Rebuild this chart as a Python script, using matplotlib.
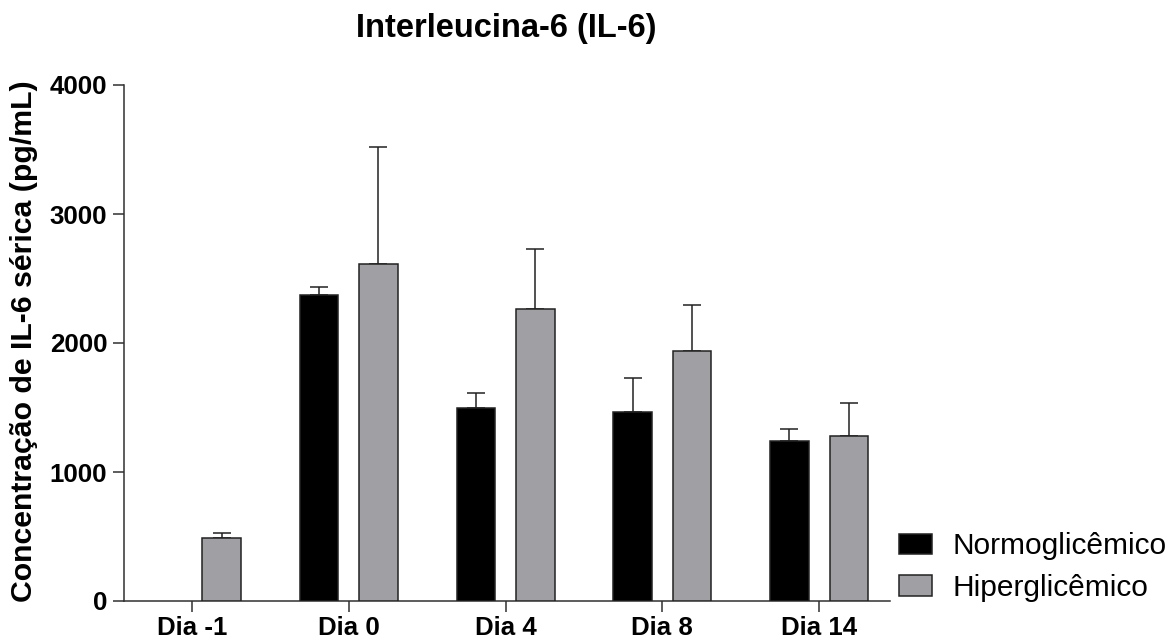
import numpy as np
import matplotlib
matplotlib.use("Agg")
import matplotlib.pyplot as plt

plt.rcParams['font.family'] = ['Liberation Sans', 'DejaVu Sans']

dias = ["Dia -1", "Dia 0", "Dia 4", "Dia 8", "Dia 14"]
normo = [np.nan, 2374, 1500, 1462, 1237]
normo_err = [0, 60, 109, 268, 93]
hiper = [492, 2610, 2261, 1937, 1278]
hiper_err = [39, 912, 470, 355, 258]

x = np.arange(len(dias))
w = 0.245
off = 0.19
edge = "#222222"
axcol = "#303030"

fig = plt.figure(figsize=(11.73, 6.42), dpi=100)
ax = fig.add_axes([124 / 1173, 1 - 601 / 642, 766 / 1173, 516 / 642])

ax.bar(x - off, normo, w, color="black", edgecolor=edge, linewidth=1.1,
       label="Normoglicêmico", zorder=3)
ax.bar(x + off, hiper, w, color="#a0a0a4", edgecolor=edge, linewidth=1.1,
       label="Hiperglicêmico", zorder=3)

# barras de erro só para cima
ax.errorbar(x - off, normo, yerr=[np.zeros(len(x)), normo_err], fmt="none",
            ecolor=edge, elinewidth=1.1, capsize=6.8, capthick=1.1, zorder=2)
ax.errorbar(x + off, hiper, yerr=[np.zeros(len(x)), hiper_err], fmt="none",
            ecolor=edge, elinewidth=1.1, capsize=6.8, capthick=1.1, zorder=2)

ax.set_xlim(-0.433, 4.452)
ax.set_ylim(0, 4000)
ax.set_yticks([0, 1000, 2000, 3000, 4000])
ax.set_xticks(x)
ax.set_xticklabels(dias)
for s in ["top", "right"]:
    ax.spines[s].set_visible(False)
for s in ["left", "bottom"]:
    ax.spines[s].set_linewidth(1.1)
    ax.spines[s].set_color(axcol)
ax.tick_params(axis="both", length=8, width=1.1, color=axcol, labelsize=18.6)
ax.tick_params(axis="y", pad=4)
ax.tick_params(axis="x", pad=2.5)
for lab in ax.get_xticklabels() + ax.get_yticklabels():
    lab.set_fontweight("bold")

fig.text(506.5 / 1173, 1 - 29 / 642, "Interleucina-6 (IL-6)", ha="center",
         va="center", fontsize=23.5, fontweight="bold")
fig.text(10 / 1173, 1 - 341 / 642, "Concentração de IL-6 sérica (pg/mL)",
         rotation=90, ha="left", va="center", fontsize=21.8, fontweight="bold")

fig.legend(loc="center left", bbox_to_anchor=(899 / 1173, 1 - 567 / 642),
           frameon=False, fontsize=21.5, handlelength=1.1, handleheight=0.68,
           handletextpad=0.68, labelspacing=0.45, borderpad=0, borderaxespad=0)

fig.savefig("out.png", dpi=100)
